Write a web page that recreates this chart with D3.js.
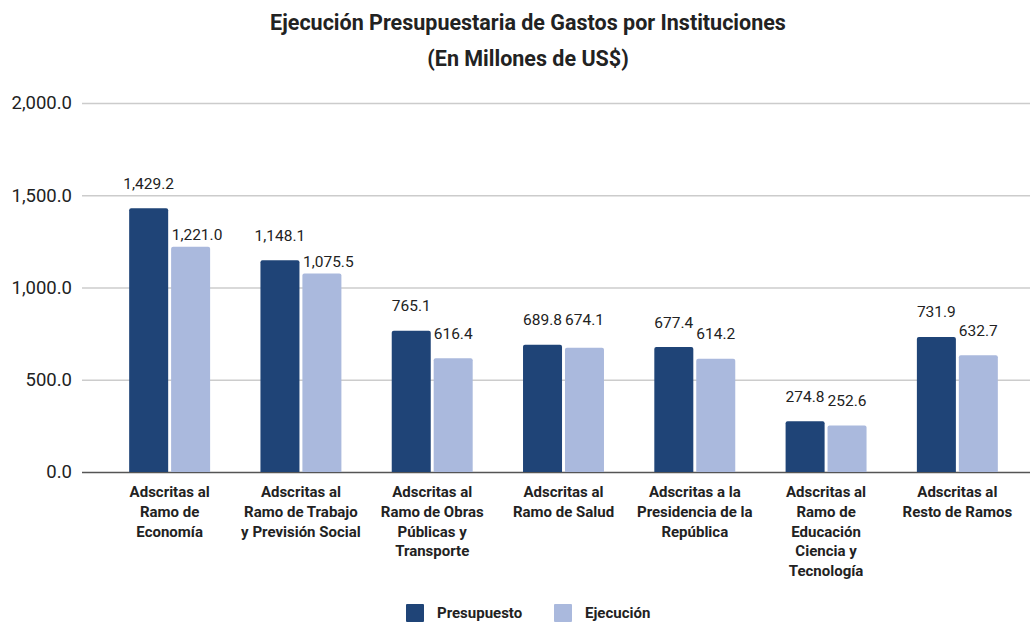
<!DOCTYPE html>
<html>
<head>
<meta charset="utf-8">
<script src="https://cdn.jsdelivr.net/npm/d3@7"></script>
<style>
body { margin: 0; background: #fff; font-family: Roboto, "Noto Sans", sans-serif; }
</style>
</head>
<body>
<div id="chart"></div>
<script>
var width = 1031;
var height = 622;

var categories = [
  ["Adscritas al", "Ramo de", "Economía"],
  ["Adscritas al", "Ramo de Trabajo", "y Previsión Social"],
  ["Adscritas al", "Ramo de Obras", "Públicas y", "Transporte"],
  ["Adscritas al", "Ramo de Salud"],
  ["Adscritas a la", "Presidencia de la", "República"],
  ["Adscritas al", "Ramo de", "Educación", "Ciencia y", "Tecnología"],
  ["Adscritas al", "Resto de Ramos"]
];
var presupuesto = [1429.2, 1148.1, 765.1, 689.8, 677.4, 274.8, 731.9];
var ejecucion = [1221.0, 1075.5, 616.4, 674.1, 614.2, 252.6, 632.7];
var seriesNames = ["Presupuesto", "Ejecución"];
var colors = ["#1f4477", "#aab9dd"];
var yTicks = [0, 500, 1000, 1500, 2000];

var svg = d3.select("#chart").append("svg")
    .attr("width", width)
    .attr("height", height);

// title
var title = svg.append("text")
    .attr("text-anchor", "middle")
    .style("font-size", "21.5px").style("font-weight", "bold").style("fill", "#222");
title.append("tspan").attr("x", 528).attr("y", 30).text("Ejecución Presupuestaria de Gastos por Instituciones");
title.append("tspan").attr("x", 528).attr("y", 66).text("(En Millones de US$)");

var left = 82, right = 1030;
var xScale = d3.scaleBand().domain(d3.range(categories.length)).range([104, 1023]);
var xInner = d3.scaleBand().domain([0, 1]).range([0, xScale.bandwidth()]).paddingInner(0.07).paddingOuter(0.6);
var yScale = d3.scaleLinear().domain([0, 2000]).range([472, 103]);
var fmt = d3.format(",.1f");

// grid
svg.append("g").selectAll("line")
    .data(yTicks)
    .enter().append("line")
    .attr("x1", left).attr("x2", right)
    .attr("y1", function(d) { return yScale(d) + 0.5; })
    .attr("y2", function(d) { return yScale(d) + 0.5; })
    .attr("stroke", function(d) { return d === 0 ? "#555" : "#ccc"; })
    .attr("stroke-width", 1.3);

var yAxis = d3.axisLeft(yScale).tickValues(yTicks).tickSize(0).tickPadding(10).tickFormat(fmt);
var yG = svg.append("g").attr("transform", "translate(" + left + ",0)").call(yAxis);
yG.select(".domain").remove();
yG.selectAll("text").style("font-size", "18.5px").style("fill", "#222").style("font-family", "Roboto");

var rows = categories.map(function(c, i) { return { i: i, vals: [presupuesto[i], ejecucion[i]] }; });

var groups = svg.selectAll(".grp")
    .data(rows)
    .enter().append("g")
    .attr("transform", function(d) { return "translate(" + xScale(d.i) + ",0)"; });

function barPath(x, y, w, h, r) {
  return "M" + x + "," + (y + h) + "V" + (y + r) + "Q" + x + "," + y + " " + (x + r) + "," + y +
    "H" + (x + w - r) + "Q" + (x + w) + "," + y + " " + (x + w) + "," + (y + r) + "V" + (y + h) + "Z";
}

groups.selectAll("path")
    .data(function(d) { return d.vals; })
    .enter().append("path")
    .attr("d", function(v, j) {
      var y = yScale(v);
      return barPath(xInner(j), y, xInner.bandwidth(), yScale(0) - y, 2);
    })
    .attr("fill", function(v, j) { return colors[j]; });

// value labels: centred above each bar, second label moved aside when it hits the first bar or label
groups.each(function(d) {
  var g = d3.select(this);
  var bw = xInner.bandwidth();
  var boxes = [];
  d.vals.forEach(function(v, j) {
    var cx = xInner(j) + bw / 2;
    var cy = yScale(v) - 25;
    var t = g.append("text")
        .attr("text-anchor", "middle")
        .style("font-size", "15.5px").style("fill", "#222")
        .text(fmt(v));
    var w = t.node().getComputedTextLength();
    if (j === 1) {
      var p = boxes[0];
      var x0 = cx - w / 2 - 2, x1 = cx + w / 2 + 2, y0 = cy - 10, y1 = cy + 10;
      var barX1 = xInner(0) + bw, barY0 = yScale(d.vals[0]);
      var hitBar = x0 < barX1 && y1 > barY0;
      var hitLabel = x0 < p.x1 && x1 > p.x0 && y0 < p.y1 && y1 > p.y0;
      if (hitBar || hitLabel) {
        cx = Math.max(cx, barX1 + 3.5 + w / 2);
        cy = yScale(v) - 12;
      } else if (Math.abs(cy - p.cy) < 4) {
        cy = p.cy;
      }
    }
    boxes.push({ x0: cx - w / 2, x1: cx + w / 2, y0: cy - 8, y1: cy + 8, cy: cy });
    t.attr("x", cx).attr("y", cy + 5.5);
  });
});

// category labels
groups.append("text")
    .attr("text-anchor", "middle")
    .attr("x", xScale.bandwidth() / 2)
    .attr("y", 497)
    .style("font-size", "15px").style("font-weight", "bold").style("fill", "#222")
    .selectAll("tspan")
    .data(function(d) { return categories[d.i]; })
    .enter().append("tspan")
    .attr("x", xScale.bandwidth() / 2)
    .attr("dy", function(t, k) { return k === 0 ? 0 : 19.8; })
    .text(function(t) { return t; });

// legend
var legendX = [406, 554];
var legend = svg.selectAll(".leg")
    .data(seriesNames)
    .enter().append("g")
    .attr("transform", function(d, i) { return "translate(" + legendX[i] + ",604)"; });
legend.append("rect")
    .attr("width", 18).attr("height", 18).attr("rx", 1)
    .attr("fill", function(d, i) { return colors[i]; });
legend.append("text")
    .attr("x", 31).attr("y", 14)
    .style("font-size", "15px").style("font-weight", "bold").style("fill", "#222")
    .text(function(d) { return d; });
</script>
</body>
</html>
